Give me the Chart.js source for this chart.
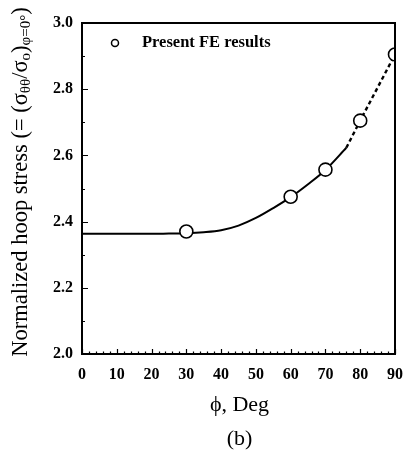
<!DOCTYPE html>
<html>
<head>
<meta charset="utf-8">
<script src="https://cdn.jsdelivr.net/npm/chart.js@4.4.1/dist/chart.umd.min.js"></script>
<style>
  html, body { margin: 0; padding: 0; background: #fff; }
  canvas { display: block; }
</style>
</head>
<body>
<canvas id="c" width="403" height="457"></canvas>
<script>
// Loading angle (deg) and normalized hoop stress
const feDeg = [30, 60, 70, 80, 90];
const feVal = [2.37, 2.475, 2.557, 2.705, 2.905];

// Fitted trend, solid part
const fitDeg = [0, 10, 20, 25, 30, 35, 40, 45, 50, 55, 60, 65, 70, 76];
const fitVal = [2.363, 2.363, 2.363, 2.364, 2.365, 2.368, 2.374, 2.388, 2.411, 2.441, 2.474, 2.513, 2.556, 2.623];

// Extrapolated trend, dashed part
const extDeg = [76, 80, 85, 90];
const extVal = [2.623, 2.705, 2.805, 2.905];

// Axis ticks
const xTicks = [0, 10, 20, 30, 40, 50, 60, 70, 80, 90];
const yTicks = [2.0, 2.2, 2.4, 2.6, 2.8, 3.0];

const SERIF = '"Liberation Serif", "Times New Roman", serif';
const toXY = (xs, ys) => xs.map((x, i) => ({ x: x, y: ys[i] }));

// Frame, inward tick marks, legend and axis titles
const decor = {
  id: 'decor',
  afterDatasetsDraw(chart) {
    const { ctx, chartArea: a, scales: { x, y } } = chart;
    ctx.save();
    ctx.strokeStyle = '#000';
    ctx.lineWidth = 2;
    ctx.strokeRect(a.left, a.top, a.right - a.left, a.bottom - a.top);

    ctx.lineWidth = 1.2;
    ctx.beginPath();
    for (let v = 0; v <= 90; v += 2) {
      const px = Math.round(x.getPixelForValue(v)) + 0.5;
      const len = v % 10 === 0 ? 5 : 2.5;
      ctx.moveTo(px, a.bottom);
      ctx.lineTo(px, a.bottom - len);
    }
    for (let k = 0; k <= 10; k++) {
      const v = 2 + k * 0.1;
      const py = Math.round(y.getPixelForValue(v)) + 0.5;
      const len = k % 2 === 0 ? 6 : 3;
      ctx.moveTo(a.left, py);
      ctx.lineTo(a.left + len, py);
    }
    ctx.stroke();

    // legend
    ctx.lineWidth = 1.5;
    ctx.fillStyle = '#fff';
    ctx.beginPath();
    ctx.arc(115, 43, 3.5, 0, Math.PI * 2);
    ctx.fill();
    ctx.stroke();
    ctx.fillStyle = '#000';
    ctx.font = 'bold 16.5px ' + SERIF;
    ctx.textAlign = 'left';
    ctx.textBaseline = 'middle';
    ctx.fillText('Present FE results', 142, 43);

    // x title and panel tag
    const cx = (a.left + a.right) / 2 + 1;
    ctx.font = '22px ' + SERIF;
    ctx.textAlign = 'center';
    ctx.fillText('\u03D5, Deg', cx, 405);
    ctx.fillText('(b)', cx, 439);

    // y title with subscripts
    const big = '22.5px ' + SERIF, small = '15px ' + SERIF;
    const parts = [
      ['Normalized hoop stress (= (\u03C3', big, 0],
      ['\u03B8\u03B8', small, 5],
      ['/\u03C3', big, 0],
      ['o', small, 5],
      [')', big, 0],
      ['\u03C6=0\u00B0', small, 5],
      [')', big, 0]
    ];
    let total = 0;
    parts.forEach(p => { ctx.font = p[1]; total += ctx.measureText(p[0]).width; });
    ctx.translate(21, 182);
    ctx.rotate(-Math.PI / 2);
    ctx.textAlign = 'left';
    ctx.textBaseline = 'middle';
    let pos = -total / 2;
    parts.forEach(p => {
      ctx.font = p[1];
      ctx.fillText(p[0], pos, p[2]);
      pos += ctx.measureText(p[0]).width;
    });
    ctx.restore();
  }
};

new Chart(document.getElementById('c'), {
  type: 'scatter',
  data: {
    datasets: [
      {
        label: 'Present FE results',
        data: toXY(feDeg, feVal),
        showLine: false,
        clip: 0,
        pointStyle: 'circle',
        pointRadius: 6.5,
        pointBorderWidth: 1.6,
        pointBorderColor: '#000',
        pointBackgroundColor: '#fff',
        order: 0
      },
      {
        label: 'fit',
        data: toXY(fitDeg, fitVal),
        showLine: true,
        borderColor: '#000',
        borderWidth: 2,
        pointRadius: 0,
        cubicInterpolationMode: 'monotone',
        order: 2
      },
      {
        label: 'extrapolation',
        data: toXY(extDeg, extVal),
        showLine: true,
        borderColor: '#000',
        borderWidth: 2.4,
        borderDash: [4, 3],
        pointRadius: 0,
        cubicInterpolationMode: 'monotone',
        order: 1
      }
    ]
  },
  options: {
    responsive: false,
    animation: false,
    devicePixelRatio: 1,
    layout: { autoPadding: false, padding: { left: 0, right: 8, top: 23, bottom: 0 } },
    plugins: { legend: { display: false }, tooltip: { enabled: false } },
    scales: {
      x: {
        type: 'linear',
        min: 0, max: 90,
        afterBuildTicks: s => { s.ticks = xTicks.map(v => ({ value: v })); },
        afterFit: s => { s.height = 103; s.paddingLeft = 0; s.paddingRight = 0; },
        grid: { display: false, drawTicks: false },
        border: { display: false },
        ticks: { color: '#000', padding: 11, maxRotation: 0, font: { family: SERIF, size: 16, weight: 'bold' } }
      },
      y: {
        type: 'linear',
        min: 2, max: 3,
        afterBuildTicks: s => { s.ticks = yTicks.map(v => ({ value: v })); },
        afterFit: s => { s.width = 82; s.paddingTop = 0; s.paddingBottom = 0; },
        grid: { display: false, drawTicks: false },
        border: { display: false },
        ticks: { color: '#000', padding: 9, font: { family: SERIF, size: 16, weight: 'bold' },
                 callback: v => v.toFixed(1) }
      }
    }
  },
  plugins: [decor]
});
</script>
</body>
</html>
